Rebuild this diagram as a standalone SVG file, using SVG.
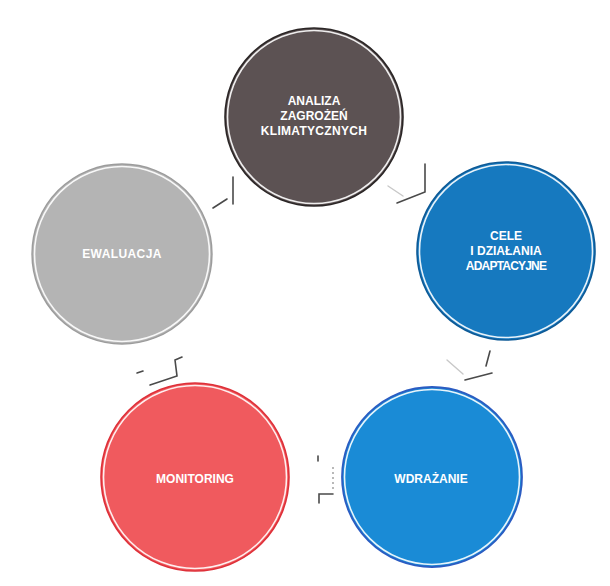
<svg xmlns="http://www.w3.org/2000/svg" width="610" height="586" viewBox="0 0 610 586">
  <defs>
    <style>
      .label { font-family: "Liberation Sans", Arial, sans-serif; font-weight: bold; font-size: 12px; fill: #ffffff; text-anchor: middle; }
      .ring { fill: none; stroke: #ffffff; stroke-width: 1.6; opacity: 0.9; }
      .conn { fill: none; stroke: #4a4a4a; stroke-width: 1.6; stroke-linecap: round; stroke-linejoin: miter; }
      .conn-faint { fill: none; stroke: #c8c8c8; stroke-width: 1.4; stroke-linecap: round; }
      .conn-dot { fill: none; stroke: #8a8a8a; stroke-width: 1.2; stroke-dasharray: 2 3; }
    </style>
  </defs>

  <rect x="0" y="0" width="610" height="586" fill="#ffffff"/>

  <!-- cycle steps -->
  <g id="analiza">
    <circle cx="314" cy="117" r="89" fill="#5c5253" stroke="#2b2626" stroke-width="1.6"/>
    <circle class="ring" cx="314" cy="117" r="86.5"/>
    <text class="label" x="314" y="105">ANALIZA</text>
    <text class="label" x="314" y="120">ZAGROŻEŃ</text>
    <text class="label" x="314" y="135" letter-spacing="0.3">KLIMATYCZNYCH</text>
  </g>

  <g id="cele">
    <circle cx="506" cy="251" r="89" fill="#1679bf" stroke="#0e5a96" stroke-width="1.6"/>
    <circle class="ring" cx="506" cy="251" r="86.5"/>
    <text class="label" x="506" y="240">CELE</text>
    <text class="label" x="506" y="255">I DZIAŁANIA</text>
    <text class="label" x="506" y="270" letter-spacing="-0.8">ADAPTACYJNE</text>
  </g>

  <g id="wdrazanie">
    <circle cx="432" cy="477" r="90" fill="#1a8bd6" stroke="#2b5cc2" stroke-width="1.8"/>
    <circle class="ring" cx="432" cy="477" r="87.5"/>
    <text class="label" x="431" y="483">WDRAŻANIE</text>
  </g>

  <g id="monitoring">
    <circle cx="195" cy="477" r="94" fill="#f05a5e" stroke="#de3039" stroke-width="1.6"/>
    <circle class="ring" cx="195" cy="477" r="91.5"/>
    <text class="label" x="195" y="483" font-size="12.5">MONITORING</text>
  </g>

  <g id="ewaluacja">
    <circle cx="122" cy="254" r="90" fill="#b4b4b4" stroke="#9c9c9c" stroke-width="1.4"/>
    <circle class="ring" cx="122" cy="254" r="87.5"/>
    <text class="label" x="122" y="258" letter-spacing="0.4">EWALUACJA</text>
  </g>

  <!-- broken arrow marks between the steps -->
  <g id="connectors">
    <!-- ewaluacja -> analiza -->
    <line class="conn" x1="233" y1="177" x2="233" y2="204"/>
    <line class="conn" x1="213" y1="208" x2="227" y2="199"/>

    <!-- analiza -> cele -->
    <polyline class="conn" points="425,164 425,192 397,203"/>
    <line class="conn-faint" x1="388" y1="186" x2="403" y2="196"/>

    <!-- cele -> wdrazanie -->
    <line class="conn" x1="490" y1="351" x2="486" y2="366"/>
    <line class="conn" x1="465" y1="380" x2="492" y2="373"/>
    <line class="conn-faint" x1="447" y1="360" x2="463" y2="374"/>

    <!-- wdrazanie -> monitoring -->
    <line class="conn" x1="318" y1="456" x2="318" y2="461"/>
    <line class="conn-dot" x1="333" y1="467" x2="333" y2="492"/>
    <polyline class="conn" points="319,503 319,494 333,494"/>

    <!-- monitoring -> ewaluacja -->
    <polyline class="conn" points="182,357 175,360 177,376 150,385"/>
    <line class="conn" x1="137" y1="373" x2="143" y2="371"/>
  </g>
</svg>
